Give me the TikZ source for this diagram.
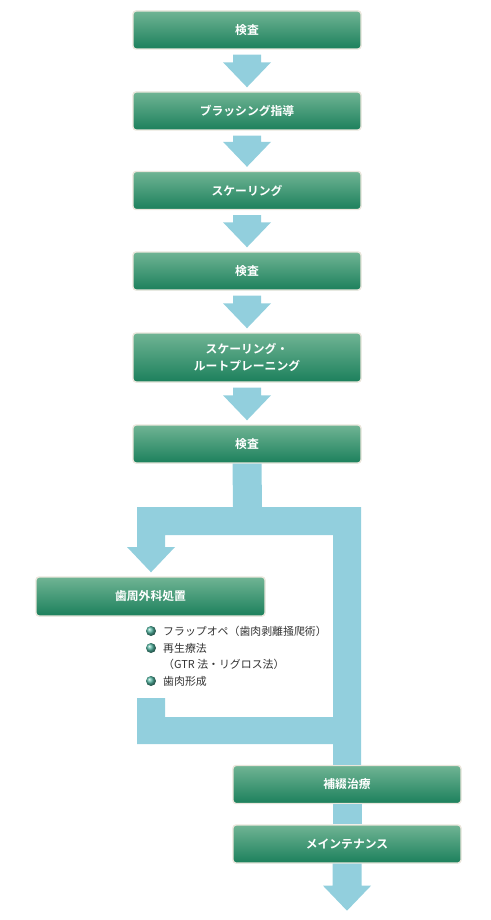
\documentclass[tikz,border=0pt]{standalone}
\usepackage{fontspec}
\newfontfamily\jp{Noto Sans CJK JP}[BoldFont={Noto Sans CJK JP Bold}]
\usetikzlibrary{calc}
\definecolor{flowblue}{RGB}{146,207,221}
\definecolor{gtop}{RGB}{112,180,148}
\definecolor{gmid}{RGB}{44,142,104}
\definecolor{gbot}{RGB}{28,128,92}
\definecolor{rim}{RGB}{234,230,220}
\definecolor{bodytext}{RGB}{51,51,51}
\definecolor{bullet}{RGB}{80,178,158}
\tikzset{
  stepbox/.style={rectangle, rounded corners=3pt, minimum width=228pt, minimum height=38pt,
    top color=gtop, middle color=gmid, bottom color=gbot, draw=rim, line width=1.4pt,
    text=white, align=center, font=\jp\bfseries\fontsize{11.8}{17}\selectfont, inner sep=2pt},
  flow/.style={fill=flowblue, draw=none},
  item/.style={anchor=west, inner sep=0pt, text=bodytext, font=\jp\fontsize{10.9}{13}\selectfont},
  dot/.style={circle, inner sep=0pt, minimum size=10pt, shading=ball, ball color=bullet}
}
\newcommand\flowarrow[2]{%
  \fill[flow] ($(#1.south)+(-14,5)$) -- ($(#1.south)+(14,5)$) -- ($(#2.north)+(14,-29)$)
    -- ($(#2.north)+(24,-29)$) -- ($(#2.north)+(0,-4)$) -- ($(#2.north)+(-24,-29)$)
    -- ($(#2.north)+(-14,-29)$) -- cycle;}
\begin{document}
\begin{tikzpicture}[x=1pt,y=-1pt]
\useasboundingbox (0,0) rectangle (490,920);
\node[stepbox] (b1) at (247,30) {検査};
\node[stepbox] (b2) at (247,111) {ブラッシング指導};
\node[stepbox] (b3) at (247,190.5) {スケーリング};
\node[stepbox] (b4) at (247,271) {検査};
\node[stepbox, minimum height=49pt] (b5) at (247,357.5) {スケーリング・\\ルートプレーニング};
\node[stepbox] (b6) at (247,444) {検査};
\node[stepbox, minimum width=229pt, minimum height=39pt] (s) at (150.5,596.5) {歯周外科処置};
\node[stepbox] (b7) at (347,784.5) {補綴治療};
\node[stepbox] (b8) at (347,844) {メインテナンス};
\flowarrow{b1}{b2}
\flowarrow{b2}{b3}
\flowarrow{b3}{b4}
\flowarrow{b4}{b5}
\flowarrow{b5}{b6}
% branch
\fill[flow] ($(b6.south)+(-14.5,0)$) -- ($(b6.south)+(14.5,0)$) -- (262,507) -- (361,507)
  -- (b7.north -| 361,0) -- (b7.north -| 333,0) -- (333,535) -- (165,535) -- (165,547)
  -- (175,547) -- ($(s.north)+(0.5,-4)$) -- (127,547) -- (137,547) -- (137,507) -- (233,507) -- cycle;
\fill[flow] (137,698) -- (165,698) -- (165,717) -- (333,717) -- (333,744) -- (137,744) -- cycle;
\fill[flow] ($(b7.south)+(-14.5,0)$) rectangle ($(b8.north)+(14.5,0)$);
\fill[flow] ($(b8.south)+(-14.5,0)$) -- ($(b8.south)+(14.5,0)$) -- ($(b8.south)+(14.5,22)$)
  -- ($(b8.south)+(24,22)$) -- ($(b8.south)+(0,47)$) -- ($(b8.south)+(-24,22)$)
  -- ($(b8.south)+(-14.5,22)$) -- cycle;
% items
\node[dot] (d1) at (151,631) {};
\node[dot] (d2) at (151,648) {};
\node[dot] (d4) at (151,681) {};
\node[item] (l1) at (163,631) {フラップオペ（歯肉剥離掻爬術）};
\node[item] (l2) at (163,648) {再生療法};
\node[item] (l3) at (163,664.5) {（GTR 法・リグロス法）};
\node[item] (l4) at (163,681) {歯肉形成};
\end{tikzpicture}
\end{document}
